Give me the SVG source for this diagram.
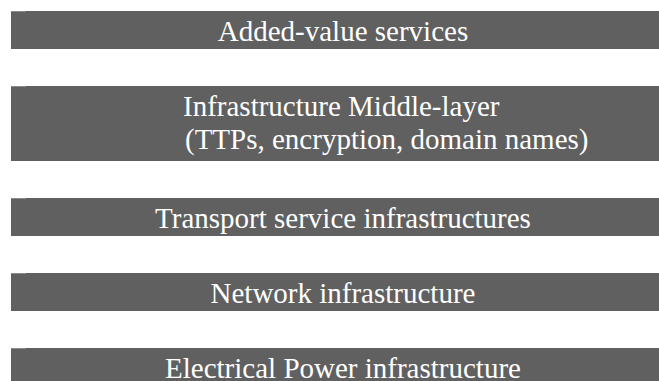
<svg xmlns="http://www.w3.org/2000/svg" width="659" height="381" viewBox="0 0 659 381">
  <style>
    .bar { fill: #606060; }
    .edge { fill: #8a8a8a; }
    .label { font-family: "Liberation Serif", "Times New Roman", serif; font-size: 29px; fill: #ffffff; }
    .mid { text-anchor: middle; }
  </style>
  <rect width="659" height="381" fill="#ffffff"/>

  <g id="added-value">
    <rect class="bar" x="11" y="11" width="660" height="38"/>
    <rect class="edge" x="11" y="11" width="15" height="1"/>
    <text class="label mid" x="343" y="41">Added-value services</text>
  </g>

  <g id="middle-layer">
    <rect class="bar" x="11" y="86" width="660" height="75"/>
    <rect class="edge" x="11" y="86" width="15" height="1"/>
    <text class="label" x="183" y="116">Infrastructure Middle-layer</text>
    <text class="label" x="185" y="149">(TTPs, encryption, domain names)</text>
  </g>

  <g id="transport">
    <rect class="bar" x="11" y="198" width="660" height="38"/>
    <rect class="edge" x="11" y="198" width="15" height="1"/>
    <text class="label mid" x="343" y="228">Transport service infrastructures</text>
  </g>

  <g id="network">
    <rect class="bar" x="11" y="273" width="660" height="38"/>
    <rect class="edge" x="11" y="273" width="15" height="1"/>
    <text class="label mid" x="343" y="303">Network infrastructure</text>
  </g>

  <g id="power">
    <rect class="bar" x="11" y="348" width="660" height="40"/>
    <rect class="edge" x="11" y="348" width="15" height="1"/>
    <text class="label mid" x="343" y="378">Electrical Power infrastructure</text>
  </g>

  <g id="connectors"/>
</svg>
